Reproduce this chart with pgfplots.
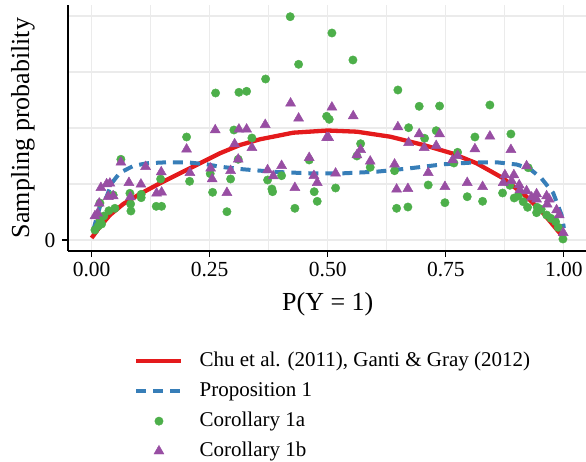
\documentclass[border=0pt]{standalone}
\usepackage{fontspec}
\setmainfont{Liberation Serif}
\usepackage{pgfplots}
\pgfplotsset{compat=1.18}

\definecolor{cRed}{HTML}{E41A1C}
\definecolor{cBlue}{HTML}{377EB8}
\definecolor{cGreen}{HTML}{4DAF4A}
\definecolor{cPurple}{HTML}{984EA3}
\definecolor{cGrid}{HTML}{EBEBEB}

\begin{document}
\begin{tikzpicture}[x=1pt,y=1pt]
\useasboundingbox (0,0) rectangle (586,461);
\begin{axis}[
    at={(68pt,210pt)}, anchor=south west,
    scale only axis, width=519.5pt, height=246pt,
    xmin=-0.05, xmax=1.05, ymin=-11, ymax=235,
    axis lines=left,
    axis line style={-, line width=1.1pt, black},
    xtick={0,0.25,0.5,0.75,1},
    xticklabels={0.00,0.25,0.50,0.75,1.00},
    minor xtick={0.125,0.375,0.625,0.875},
    ytick={0}, yticklabels={0},
    minor ytick={56,112,168,224},
    grid=both,
    major grid style={cGrid, line width=1.1pt},
    minor grid style={cGrid, line width=1.1pt},
    tick align=outside,
    major tick length=6pt, minor tick length=0pt,
    tick style={black, line width=1.1pt},
    tick label style={font=\fontsize{21.5}{24}\selectfont},
    xticklabel style={yshift=-2pt},
    yticklabel style={xshift=-3pt},
    label style={font=\fontsize{26}{30}\selectfont},
    xlabel={P(Y = 1)},
    xlabel style={yshift=-8pt},
    ylabel={Sampling probability},
    ylabel style={yshift=3pt},
    legend image code/.code={\draw[mark repeat=2,mark phase=2,#1] plot coordinates {(0pt,0pt)(22.5pt,0pt)(45pt,0pt)};},
    legend style={at={(0.1215,-0.39)}, anchor=north west, draw=none, fill=none,
        font=\fontsize{21}{24}\selectfont, row sep=6pt,
        nodes={text height=15pt, text depth=5pt},
        /tikz/every odd column/.append style={column sep=14pt}},
    legend cell align=left,
]
% Chu et al. / Ganti & Gray
\addplot[cRed, line width=4.3pt] coordinates {
(0.000,2) (0.0176,13.3) (0.0388,25) (0.0670,36) (0.1022,46) (0.1446,56.7)
(0.1869,66.7) (0.2293,76.7) (0.2716,86.7) (0.3142,95) (0.3564,100.7)
(0.4269,107.3) (0.5,109.5) (0.5617,108.3) (0.6323,103.3) (0.7029,95)
(0.7628,86.7) (0.8152,76.7) (0.8716,61.7) (0.9210,43.3) (0.9563,26.7)
(0.9917,6.7) (1.0,2)};
% Proposition 1
\addplot[cBlue, line width=4pt, dash pattern=on 10pt off 7pt] coordinates {
(0.0034,10) (0.0176,33.3) (0.0318,43.3) (0.0423,56.7) (0.0600,67.3)
(0.0881,74) (0.1163,76.7) (0.1586,77.7) (0.2009,77.7) (0.2433,75.7)
(0.2716,73.3) (0.3208,70.7) (0.3917,68) (0.4624,66.7) (0.5329,66.7)
(0.6035,68.3) (0.6740,71.7) (0.7447,75.7) (0.8152,77.7) (0.8575,77.7)
(0.9,75.5) (0.9279,71.2) (0.9527,61.5) (0.9774,47) (0.9951,25) (1.0,12)};
% Corollary 1a
\addplot[only marks, mark=*, mark size=4.2pt, mark options={draw=cGreen, fill=cGreen}] coordinates {
(0.4205,223.3) (0.4383,175.7) (0.3684,161) (0.2625,147) (0.3119,147.7)
(0.3282,148.7) (0.2011,103) (0.3013,110) (0.3394,102) (0.0620,80.7)
(0.4607,80) (0.2511,66.3) (0.2075,58.7) (0.2943,61) (0.1461,61)
(0.3726,60) (0.4023,64.3) (0.3104,80.7) (0.2562,47.7) (0.3817,51)
(0.3832,48.3) (0.4713,48.3) (0.4777,38.7) (0.2865,28.3) (0.4304,31.7)
(0.1368,33.7) (0.1482,33.7) (0.0832,29) (0.1050,42.3) (0.1050,45.7)
(0.0826,36) (0.0811,46.7) (0.0366,29.3) (0.0493,31.7) (0.0457,45)
(0.0176,20) (0.0140,14) (0.0070,10) (0.0212,16) (0.0176,37) (0.026,24)
(0.5088,207) (0.5533,180) (0.6485,150) (0.6936,133.7) (0.7368,134)
(0.8433,135) (0.4976,123.7) (0.5031,120.7) (0.6712,112.3) (0.7296,109.3)
(0.8878,106) (0.8116,103) (0.7051,101.7) (0.5696,96.3) (0.5617,84)
(0.7749,87.7) (0.7671,77) (0.5899,72.7) (0.6415,69.3) (0.5166,52)
(0.7127,55) (0.7953,43.3) (0.8279,38.7) (0.7481,37.3) (0.6458,31.7)
(0.6697,33) (0.8702,47) (0.8948,42) (0.9032,44) (0.9138,38.3)
(0.9231,32.7) (0.9422,27.3) (0.9435,32.7) (0.9519,30.7) (0.9634,25)
(0.9725,21.7) (0.9824,18.3) (0.9879,12.7) (0.998,1) (0.9244,72.3)
(0.8857,54.7)};
% Corollary 1b
\addplot[only marks, mark=triangle*, mark size=5.8pt, mark options={draw=cPurple, fill=cPurple}] coordinates {
(0.4213,136.7) (0.4383,121.7) (0.2617,110) (0.3119,110.7) (0.3282,110.7)
(0.3676,115.3) (0.3028,96) (0.3394,92.3) (0.2011,90.7) (0.4607,82.3)
(0.3104,80.7) (0.0620,77.7) (0.1143,73.3) (0.4023,74.3) (0.2520,71.7)
(0.2943,69.3) (0.1474,68) (0.2081,67.3) (0.3726,70) (0.3845,64)
(0.4707,64.3) (0.2553,61) (0.4777,57.3) (0.0790,57.3) (0.1044,55.7)
(0.0387,56.7) (0.0318,56) (0.0197,52.3) (0.4304,52.3) (0.2865,47.3)
(0.1376,46.7) (0.1482,47.7) (0.0822,43) (0.0457,44) (0.0351,43.3)
(0.0161,36.7) (0.0127,26.7) (0.0070,24)
(0.5088,132.7) (0.5539,124) (0.4976,102.3) (0.5018,102.3) (0.6485,113)
(0.6936,106) (0.7368,106) (0.8433,103.7) (0.6712,97.3) (0.7042,92.3)
(0.7296,94.3) (0.8878,90.3) (0.8116,91) (0.5696,90.3) (0.5617,85)
(0.7749,84.3) (0.7644,80) (0.5899,78.7) (0.6415,75.7) (0.9210,74)
(0.7127,67.3) (0.5166,66.7) (0.7953,57.3) (0.8279,53.3) (0.7481,53.3)
(0.6458,50.7) (0.6697,51.3) (0.8751,65) (0.8941,65) (0.8715,57.3)
(0.8893,59) (0.9054,55) (0.9210,49) (0.9422,46) (0.9422,40.7)
(0.9634,44) (0.9689,40.7) (0.9646,35.7) (0.9845,30) (0.9901,25)
(0.9985,7.3) (0.9316,42.7) (0.9068,50)};
\legend{{Chu et al. (2011), Ganti \& Gray (2012)}, Proposition 1, Corollary 1a, Corollary 1b}
\end{axis}
\end{tikzpicture}
\end{document}
